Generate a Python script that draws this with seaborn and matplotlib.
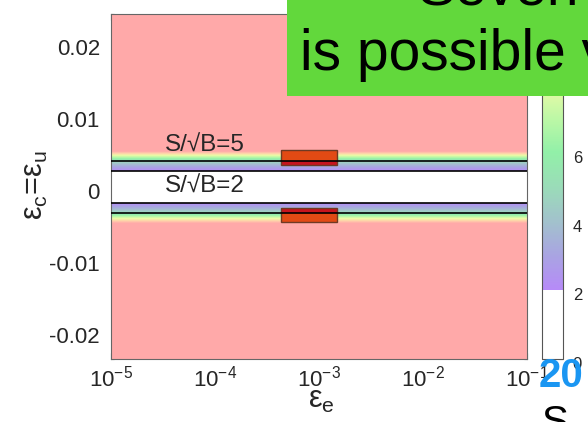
import numpy as np
import matplotlib
matplotlib.use("Agg")
import matplotlib.pyplot as plt
import seaborn as sns
from matplotlib.colors import LinearSegmentedColormap, Normalize
from matplotlib.cm import ScalarMappable
from matplotlib.patches import Rectangle
from matplotlib.ticker import MultipleLocator, FixedLocator, LogLocator, NullFormatter
from matplotlib.transforms import ScaledTranslation

# ---------------- data ----------------
eps_e_range = [1e-5, 1e-1]
eps_cu = [-0.024, -0.0060, -0.0051, -0.0044, -0.0037, -0.0030, -0.00225, -0.0018,
          0.0, 0.0018, 0.00215, 0.0029, 0.0036, 0.0043, 0.0049, 0.0060, 0.024]
significance = [30, 14, 10, 7.8, 5.0, 3.4, 2.0, 1.3,
                0.0, 1.3, 2.0, 3.4, 5.0, 7.8, 10, 14, 30]
contour_levels = [2, 5]
label_texts = ["S/√B=5", "S/√B=2"]
box_eps_e = [4.3e-4, 1.48e-3]
box_eps_cu_upper = [0.0030, 0.0051]
box_eps_cu_lower = [-0.0049, -0.0030]
yticks = [-0.02, -0.01, 0.0, 0.01, 0.02]
ytick_labels = ["-0.02", "-0.01", "0", "0.01", "0.02"]
xticks = [1e-5, 1e-4, 1e-3, 1e-2, 1e-1]
xtick_labels = [r"10$^{-5}$", r"10$^{-4}$", r"10$^{-3}$", r"10$^{-2}$", r"10$^{-1}$"]
cbar_ticks = [0, 2, 4, 6, 8, 10]
cbar_tick_labels = ["0", "2", "4", "6", "8", "10"]
cmap_nodes = [0, 1.999, 2, 3, 4, 5, 6, 7, 8, 9, 10]
cmap_colors = ["#ffffff", "#ffffff", "#b68af8", "#a9a4e2", "#a2c2cc", "#9adcb8",
               "#92f0a8", "#bef8a6", "#eefaa6", "#ffd0aa", "#ffa9a9"]

# ---------------- style ----------------
sns.set_theme(style="ticks")
plt.rcParams["font.family"] = ["Liberation Sans", "DejaVu Sans"]
plt.rcParams["mathtext.fontset"] = "custom"
plt.rcParams["mathtext.rm"] = "Liberation Sans"
plt.rcParams["mathtext.it"] = "Liberation Sans:italic"
plt.rcParams["mathtext.default"] = "regular"
plt.rcParams["axes.unicode_minus"] = False

fig = plt.figure(figsize=(5.88, 4.22), dpi=100)
fig.patch.set_facecolor("white")
ax = fig.add_axes([0.1888, 0.1493, 0.7075, 0.8175])
cax = fig.add_axes([0.9218, 0.1493, 0.0357, 0.8175])

cmap = LinearSegmentedColormap.from_list(
    "sig", [(v / 10.0, c) for v, c in zip(cmap_nodes, cmap_colors)], N=512)
cmap.set_over("#ffa9a9")
norm = Normalize(0, 10)

Z = np.tile(np.asarray(significance, dtype=float)[:, None], (1, len(eps_e_range)))

ax.set_xscale("log")
ax.contourf(eps_e_range, eps_cu, Z, levels=np.linspace(0, 10, 201), cmap=cmap,
            norm=norm, extend="max", antialiased=False, zorder=1)

# highlighted boxes (two shades split at the S/sqrt(B)=5 contour)
for ylo, yhi in (box_eps_cu_upper, box_eps_cu_lower):
    rect = Rectangle((box_eps_e[0], ylo), box_eps_e[1] - box_eps_e[0], yhi - ylo,
                     transform=ax.transData, facecolor="none", edgecolor="none")
    ax.add_patch(rect)
    cs = ax.contourf(eps_e_range, eps_cu, Z, levels=[-1, 5, 1000],
                     colors=["#c6141e", "#e24a14"], antialiased=True, zorder=2)
    cs.set_clip_path(rect)
    ax.add_patch(Rectangle((box_eps_e[0], ylo), box_eps_e[1] - box_eps_e[0], yhi - ylo,
                           facecolor="none", edgecolor="#6e3a24", linewidth=1.0, zorder=3))

ax.contour(eps_e_range, eps_cu, Z, levels=contour_levels, colors="black",
           linewidths=1.2, zorder=4)

ax.text(8e-5, 0.0057, label_texts[0], ha="center", va="center", fontsize=17.5, zorder=5)
ax.text(8e-5, 0.0000, label_texts[1], ha="center", va="center", fontsize=17.5, zorder=5)

ax.set_xlim(eps_e_range)
ax.set_ylim(-0.024, 0.024)
ax.xaxis.set_major_locator(FixedLocator(xticks))
ax.set_xticklabels(xtick_labels)
ax.xaxis.set_minor_locator(LogLocator(base=10, subs=np.arange(2, 10), numticks=20))
ax.xaxis.set_minor_formatter(NullFormatter())
ax.yaxis.set_major_locator(FixedLocator(yticks))
ax.set_yticklabels(ytick_labels)
ax.yaxis.set_minor_locator(MultipleLocator(0.001))

for sp in ax.spines.values():
    sp.set_visible(True)
    sp.set_color("#666666")
    sp.set_linewidth(0.8)
ax.tick_params(which="both", direction="in", top=True, right=True,
               color="#444444", width=0.8, labelsize=16)
ax.tick_params(which="major", length=4.5)
ax.tick_params(which="minor", length=2.4)
ax.tick_params(axis="x", which="major", pad=5)
ax.tick_params(axis="y", which="major", pad=8)

# colorbar
cb = fig.colorbar(ScalarMappable(norm=norm, cmap=cmap), cax=cax, ticks=cbar_ticks)
cb.ax.set_yticklabels(cbar_tick_labels)
cb.outline.set_edgecolor("#555555")
cb.outline.set_linewidth(0.8)
cax.tick_params(direction="in", length=3, width=0.8, color="#555555", left=True,
                right=True, labelleft=False, labelright=True, labelsize=12, pad=7)
cax.minorticks_off()

# IDL-like slight downward offset of vertical tick labels
off = ScaledTranslation(0, -0.045, fig.dpi_scale_trans)
for lab in ax.get_yticklabels() + cax.get_yticklabels():
    lab.set_transform(lab.get_transform() + off)

# axis labels
fig.text(34.5 / 588, 1 - 185.5 / 422, "ε$_{c}$=ε$_{u}$", rotation=90,
         ha="center", va="center", fontsize=22)
fig.text(321 / 588, 1 - 408 / 422, "ε$_{e}$", ha="center", va="baseline", fontsize=22)

# slide overlays
fig.add_artist(Rectangle((286.7 / 588, 1 - 95.7 / 422), 0.6, 0.3,
                         transform=fig.transFigure, facecolor="#62d83c",
                         edgecolor="none", zorder=20))
fig.text(300 / 588, 1 - 70 / 422, "is possible v", fontsize=41, ha="left",
         va="baseline", color="black", zorder=21)
fig.text(417 / 588, 1 - 5 / 422, "Seven", fontsize=41, ha="left",
         va="baseline", color="black", zorder=21)
fig.text(539 / 588, 1 - 387 / 422, "20", fontsize=29, fontweight="bold",
         color="#1a96f2", ha="left", va="baseline", zorder=22)
fig.text(541 / 588, 1 - 434 / 422, "S", fontsize=29, ha="left",
         va="baseline", color="black", zorder=22)

fig.savefig("out.png", dpi=100)
